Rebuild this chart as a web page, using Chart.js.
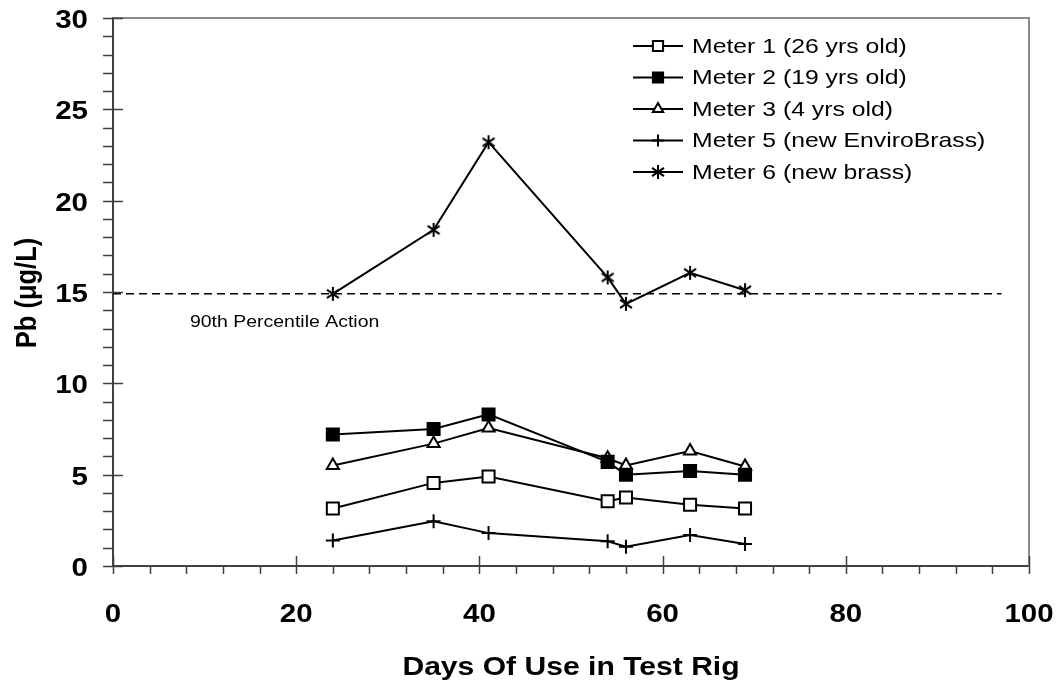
<!DOCTYPE html>
<html>
<head>
<meta charset="utf-8">
<script src="https://cdn.jsdelivr.net/npm/chart.js@4/dist/chart.umd.min.js"></script>
<style>
  html, body { margin: 0; padding: 0; background: #fff; }
  #wrap { width: 1058px; height: 686px; }
</style>
</head>
<body>
<div id="wrap"><canvas id="chart" width="1058" height="686"></canvas></div>
<script>
// days of use for every sample
const days = [24, 35, 41, 54, 56, 63, 69];

const meter1 = [3.15, 4.55, 4.9, 3.55, 3.75, 3.35, 3.15];
const meter2 = [7.2, 7.5, 8.3, 5.7, 5.0, 5.2, 5.0];
const meter3 = [5.5, 6.7, 7.55, 5.9, 5.5, 6.3, 5.45];
const meter5 = [1.4, 2.45, 1.8, 1.35, 1.05, 1.7, 1.2];
const meter6 = [14.9, 18.4, 23.2, 15.8, 14.35, 16.05, 15.1];

const labels = [
    "Meter 1 (26 yrs old)",
    "Meter 2 (19 yrs old)",
    "Meter 3 (4 yrs old)",
    "Meter 5 (new EnviroBrass)",
    "Meter 6 (new brass)"
];

const actionLevel = 14.9;
const actionSpan = [0, 97];
const actionText = "90th Percentile Action";
const actionTextAt = [8.4, 13.35];

const xTicks = { min: 0, max: 100, step: 20, minor: 4 };
const yTicks = { min: 0, max: 30, step: 5, minor: 1 };
const xTitle = "Days Of Use in Test Rig";
const yTitle = "Pb (\u03bcg/L)";

const FONT = "Arial, 'Liberation Sans', sans-serif";
const STRETCH = 1.18;  // the original image is a bit wider than tall

// asterisk marker (vertical bar + X)
function asterisk(size) {
    const c = document.createElement("canvas");
    c.width = size; c.height = size;
    const g = c.getContext("2d");
    const m = size / 2, r = size / 2 - 1;
    g.strokeStyle = "#000";
    g.lineWidth = 2;
    g.beginPath();
    g.moveTo(m, m - r); g.lineTo(m, m + r);
    const d = r * 0.85;
    g.moveTo(m - d, m - d * 0.7); g.lineTo(m + d, m + d * 0.7);
    g.moveTo(m + d, m - d * 0.7); g.lineTo(m - d, m + d * 0.7);
    g.stroke();
    return c;
}
const starMark = asterisk(16);

function pts(ys) {
    return days.map((d, i) => ({ x: d, y: ys[i] }));
}

function series(label, ys, style, fill, radius) {
    return {
        label,
        data: pts(ys),
        borderColor: "#000",
        borderWidth: 2,
        pointStyle: style,
        pointRadius: radius,
        pointHoverRadius: radius,
        pointBackgroundColor: fill,
        pointBorderColor: "#000",
        pointBorderWidth: 2,
        tension: 0,
        fill: false
    };
}

const datasets = [
    series(labels[0], meter1, "rect", "#fff", 8.5),
    series(labels[1], meter2, "rect", "#000", 8.5),
    series(labels[2], meter3, "triangle", "#fff", 7),
    series(labels[3], meter5, "cross", "#000", 7),
    series(labels[4], meter6, starMark, "#000", 8),
    {
        label: "action",
        data: actionSpan.map(x => ({ x, y: actionLevel })),
        borderColor: "#000",
        borderWidth: 1.5,
        borderDash: [8, 5],
        pointRadius: 0,
        fill: false
    }
];

// text with the same horizontal stretch as the source picture
function text(c, str, x, y, font, align, base, rot) {
    c.save();
    c.translate(x, y);
    c.scale(STRETCH, 1);
    if (rot) c.rotate(rot);
    c.font = font;
    c.textAlign = align;
    c.textBaseline = base;
    c.fillStyle = "#000";
    c.fillText(str, 0, 0);
    c.restore();
}

const extras = {
    id: "extras",
    afterDraw(chart) {
        const c = chart.ctx;
        const a = chart.chartArea;
        const xs = chart.scales.x, ys = chart.scales.y;
        c.save();

        // box on top / right
        c.strokeStyle = "#8a8a8a";
        c.lineWidth = 2;
        c.beginPath();
        c.moveTo(a.left, a.top); c.lineTo(a.right, a.top); c.lineTo(a.right, a.bottom);
        c.stroke();

        // tick marks
        c.strokeStyle = "#404040";
        c.lineWidth = 1.5;
        c.beginPath();
        for (let v = yTicks.min; v <= yTicks.max; v += yTicks.minor) {
            const p = Math.round(ys.getPixelForValue(v)) + 0.5;
            const major = v % yTicks.step === 0;
            c.moveTo(a.left - 10, p);
            c.lineTo(major ? a.left + 10 : a.left, p);
        }
        for (let v = xTicks.min; v <= xTicks.max; v += xTicks.minor) {
            const p = Math.round(xs.getPixelForValue(v)) + 0.5;
            const major = v % xTicks.step === 0;
            c.moveTo(p, major ? a.bottom - 10 : a.bottom);
            c.lineTo(p, a.bottom + 8);
        }
        c.stroke();

        // tick labels
        const tickFont = "bold 25px " + FONT;
        ys.ticks.forEach(t => {
            text(c, String(t.value), a.left - 25, ys.getPixelForValue(t.value) + 10, tickFont, "right", "alphabetic");
        });
        xs.ticks.forEach(t => {
            text(c, String(t.value), xs.getPixelForValue(t.value), a.bottom + 56, tickFont, "center", "alphabetic");
        });

        // axis titles
        const titleFont = "bold 25.5px " + FONT;
        text(c, xTitle, (a.left + a.right) / 2, 675, titleFont, "center", "alphabetic");
        text(c, yTitle, 28, 293, titleFont, "center", "middle", -Math.PI / 2);

        // action level label
        text(c, actionText, xs.getPixelForValue(actionTextAt[0]), ys.getPixelForValue(actionTextAt[1]),
            "16.5px " + FONT, "left", "middle");

        // legend
        const lx = a.left + 520, ly = a.top + 28, row = 31.5;
        for (let i = 0; i < 5; i++) {
            const ds = chart.data.datasets[i];
            const y = ly + i * row;
            c.strokeStyle = "#000";
            c.lineWidth = 2;
            c.beginPath();
            c.moveTo(lx, y); c.lineTo(lx + 50, y);
            c.stroke();
            c.fillStyle = ds.pointBackgroundColor;
            c.strokeStyle = "#000";
            c.lineWidth = 2;
            Chart.helpers.drawPoint(c, {
                pointStyle: ds.pointStyle,
                radius: ds.pointRadius * 0.85,
                rotation: 0,
                borderWidth: 2
            }, lx + 25, y);
            text(c, ds.label, lx + 59, y + 1, "21px " + FONT, "left", "middle");
        }
        c.restore();
    }
};

new Chart(document.getElementById("chart"), {
    type: "line",
    data: { datasets },
    options: {
        responsive: false,
        animation: false,
        layout: { padding: { top: 18, right: 29, left: 0, bottom: 0 } },
        plugins: {
            legend: { display: false },
            tooltip: { enabled: false }
        },
        scales: {
            x: {
                type: "linear",
                min: xTicks.min,
                max: xTicks.max,
                grid: { display: false, drawTicks: false },
                border: { display: true, color: "#404040", width: 2 },
                ticks: { stepSize: xTicks.step, display: false },
                title: { display: false },
                afterFit(s) { s.height = 120; }
            },
            y: {
                type: "linear",
                min: yTicks.min,
                max: yTicks.max,
                grid: { display: false, drawTicks: false },
                border: { display: true, color: "#404040", width: 2 },
                ticks: { stepSize: yTicks.step, display: false },
                title: { display: false },
                afterFit(s) { s.width = 113; }
            }
        }
    },
    plugins: [extras]
});
</script>
</body>
</html>
